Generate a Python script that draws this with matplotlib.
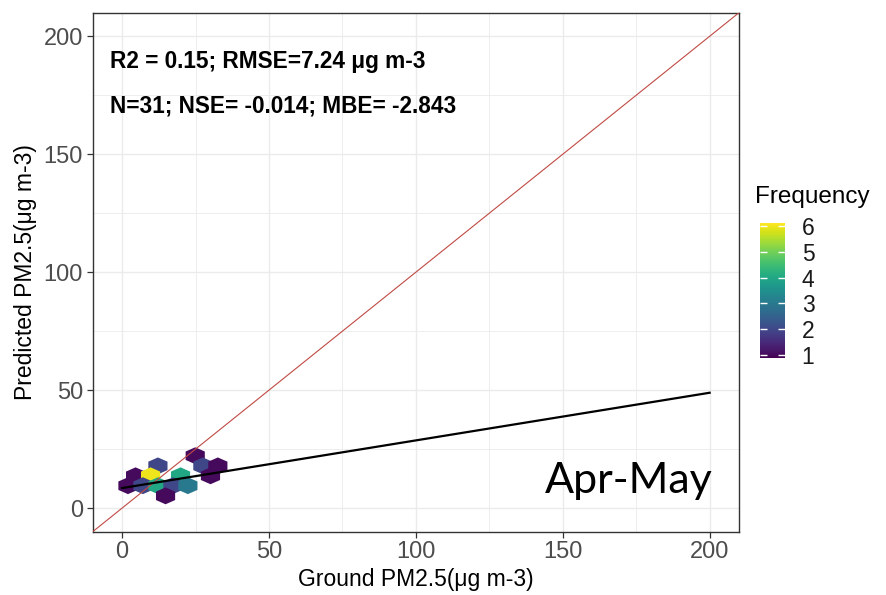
import numpy as np
import matplotlib
matplotlib.use("Agg")
import matplotlib.pyplot as plt
from matplotlib.colors import Normalize

plt.rcParams['font.family'] = ['Liberation Sans', 'DejaVu Sans']

# hexbin cells (ground, predicted, count)
hex_x = [24.9, 27.5, 32.6, 12.2, 4.6, 9.7, 19.9, 30.1, 2.0, 7.1, 12.2, 17.3, 22.4, 14.8]
hex_y = [22.2, 17.9, 17.9, 17.9, 13.7, 13.7, 13.7, 13.7, 9.5, 9.5, 9.5, 9.5, 9.5, 5.2]
hex_n = [1, 2, 1, 2, 1, 6, 4, 1, 1, 2, 4, 2, 3, 1]

# fitted line
fit_x = [0, 200]
fit_y = [8.5, 48.9]

stats1 = "R2 = 0.15; RMSE=7.24 \u03bcg m-3"
stats2 = "N=31; NSE= -0.014; MBE= -2.843"
period = "Apr-May"
freq_ticks = [1, 2, 3, 4, 5, 6]
axis_ticks = [0, 50, 100, 150, 200]

fig = plt.figure(figsize=(8.87, 5.95), dpi=100)
ax = fig.add_axes([92.7 / 887, 1 - 531.7 / 595, 646.3 / 887, 519 / 595])

norm = Normalize(vmin=0.87, vmax=6.13)
# squashed hexagon like geom_hex
w, h = 15.0, 13.2
hexmark = [(0, h / 2), (w / 2, h / 4), (w / 2, -h / 4), (0, -h / 2),
           (-w / 2, -h / 4), (-w / 2, h / 4), (0, h / 2)]
sc = ax.scatter(hex_x, hex_y, c=hex_n, cmap='viridis', norm=norm,
                marker=hexmark, s=(w * 0.92) ** 2, linewidths=0, zorder=3)

ax.plot([-10, 210], [-10, 210], color='#c04a44', lw=0.8, zorder=4)
ax.plot(fit_x, fit_y, color='black', lw=1.6, zorder=5)

ax.set_xlim(-10, 210)
ax.set_ylim(-10, 210)
ax.set_xticks(axis_ticks)
ax.set_yticks(axis_ticks)
ax.set_xticks([25, 75, 125, 175], minor=True)
ax.set_yticks([25, 75, 125, 175], minor=True)
ax.grid(True, which='major', color='#ebebeb', lw=1.0, zorder=0)
ax.grid(True, which='minor', color='#ebebeb', lw=0.6, zorder=0)
ax.set_axisbelow(True)
ax.tick_params(which='major', length=4, width=0.9, color='#333333',
               labelsize=17, labelcolor='#4d4d4d', pad=3)
ax.tick_params(which='minor', length=0)
for sp in ax.spines.values():
    sp.set_color('#333333')
    sp.set_linewidth(1.0)

ax.set_xlabel("Ground PM2.5(\u03bcg m-3)", fontsize=16.5, labelpad=3)
ax.set_ylabel("Predicted PM2.5(\u03bcg m-3)", fontsize=16.5, labelpad=5)

ax.text(-4, 189.5, stats1, fontsize=16.3, fontweight='bold', ha='left', va='center')
ax.text(-4, 170.4, stats2, fontsize=16.3, fontweight='bold', ha='left', va='center')
ax.text(144, 6.5, period, fontsize=31, family=['Lato', 'DejaVu Sans'],
        ha='left', va='baseline')

# colour legend
cax = fig.add_axes([760 / 887, 1 - 358 / 595, 25 / 887, 135 / 595])
cb = fig.colorbar(sc, cax=cax, ticks=freq_ticks)
cb.outline.set_visible(False)
cax.tick_params(direction='in', color='white', length=5, width=1,
                left=True, right=True, labelsize=16.5, labelcolor='#1a1a1a', pad=12)
fig.text(755 / 887, 1 - 197 / 595, "Frequency", fontsize=17.5, ha='left', va='center')

fig.savefig("out.png", dpi=100)
